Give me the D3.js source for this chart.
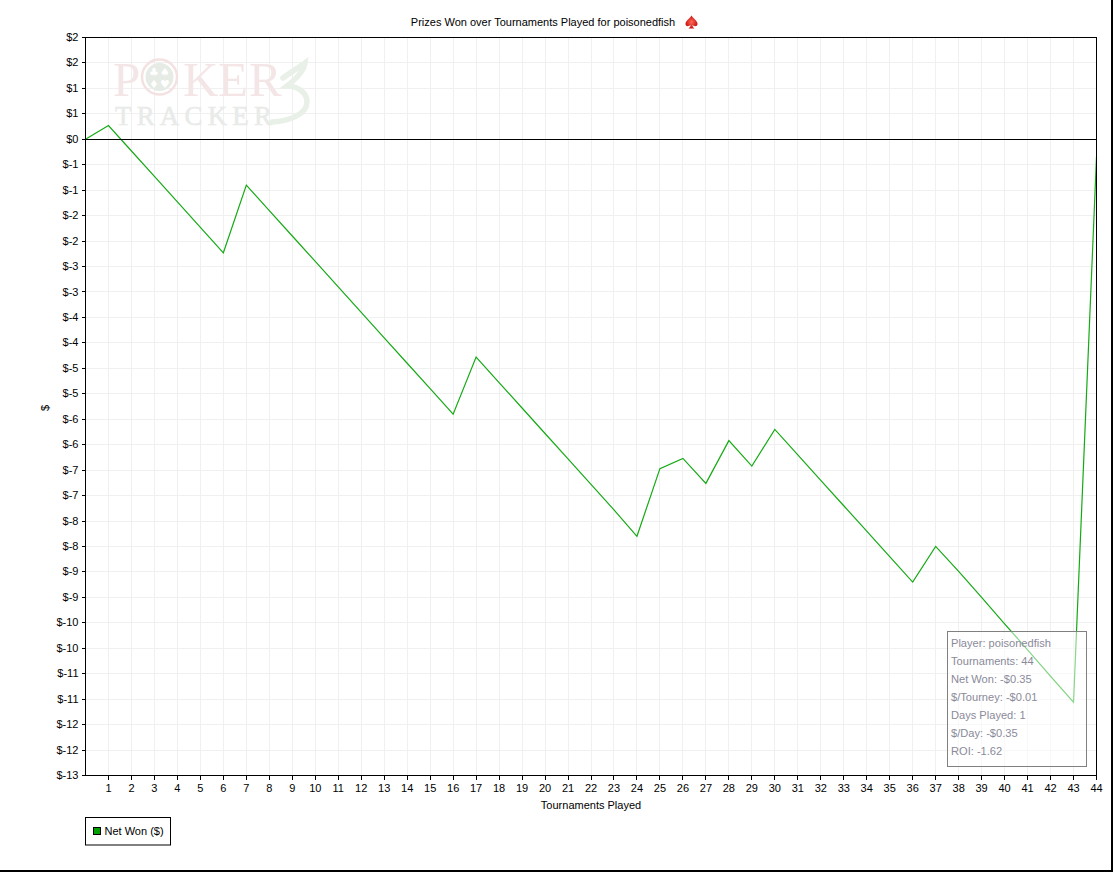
<!DOCTYPE html>
<html>
<head>
<meta charset="utf-8">
<title>Prizes Won over Tournaments Played</title>
<script src="https://cdn.jsdelivr.net/npm/d3@7"></script>
<style>
html,body{margin:0;padding:0;background:#fff;overflow:hidden}
svg{display:block}
text{font-family:"Liberation Sans",Arial,sans-serif;fill:#000}
</style>
</head>
<body>
<svg id="c" width="1113" height="872"></svg>
<script>
const chartTitle = "Prizes Won over Tournaments Played for poisonedfish";
const xTitle = "Tournaments Played";
const yTitle = "$";
const seriesName = "Net Won ($)";
const tournaments = [0,1,2,3,4,5,6,7,8,9,10,11,12,13,14,15,16,17,18,19,20,21,22,23,24,25,26,27,28,29,30,31,32,33,34,35,36,37,38,39,40,41,42,43,44];
const netWon = [0,0.27,-0.23,-0.73,-1.23,-1.73,-2.23,-0.9,-1.4,-1.9,-2.4,-2.9,-3.4,-3.9,-4.4,-4.9,-5.4,-4.28,-4.78,-5.28,-5.78,-6.28,-6.78,-7.28,-7.8,-6.47,-6.27,-6.76,-5.92,-6.42,-5.7,-6.2,-6.7,-7.2,-7.7,-8.2,-8.7,-8.0,-8.49,-9.0,-9.52,-10.03,-10.55,-11.06,-0.35];
const xTicks = [1,2,3,4,5,6,7,8,9,10,11,12,13,14,15,16,17,18,19,20,21,22,23,24,25,26,27,28,29,30,31,32,33,34,35,36,37,38,39,40,41,42,43,44];
const yTicks = [2,1.5,1,0.5,0,-0.5,-1,-1.5,-2,-2.5,-3,-3.5,-4,-4.5,-5,-5.5,-6,-6.5,-7,-7.5,-8,-8.5,-9,-9.5,-10,-10.5,-11,-11.5,-12,-12.5];
const yTickLabels = ["$2","$2","$1","$1","$0","$-1","$-1","$-2","$-2","$-3","$-3","$-4","$-4","$-5","$-5","$-6","$-6","$-7","$-7","$-8","$-8","$-9","$-9","$-10","$-10","$-11","$-11","$-12","$-12","$-13"];
const statLines = ["Player: poisonedfish","Tournaments: 44","Net Won: -$0.35","$/Tourney: -$0.01","Days Played: 1","$/Day: -$0.35","ROI: -1.62"];
const logoTop = ["P","K","E","R"];
const logoBottom = "TRACKER";

const L = 85.5, R = 1096.5, T = 37.5, B = 775.5;
const svg = d3.select("#c");
const x = d3.scaleLinear().domain([0,44]).range([L,R]);
const y = d3.scaleLinear().domain([2,-12.5]).range([T,B]);

const defs = svg.append("defs");
const grad = defs.append("radialGradient").attr("id","spadeFill");
grad.append("stop").attr("offset","0%").attr("stop-color","#ff6a55");
grad.append("stop").attr("offset","100%").attr("stop-color","#c81414");

// window edge
svg.append("rect").attr("x",1111).attr("y",0).attr("width",2).attr("height",872).attr("fill","#000");
svg.append("rect").attr("x",0).attr("y",870).attr("width",1113).attr("height",2).attr("fill","#000");

// grid
const grid = svg.append("g").attr("stroke","#f0f0f0").attr("stroke-width",1);
grid.selectAll(".gx").data(xTicks).join("line")
  .attr("x1",d=>Math.floor(x(d))+.5).attr("x2",d=>Math.floor(x(d))+.5).attr("y1",T).attr("y2",B);
grid.selectAll(".gy").data(yTicks).join("line")
  .attr("y1",d=>Math.floor(y(d))+.5).attr("y2",d=>Math.floor(y(d))+.5).attr("x1",L).attr("x2",R);

// watermark
const logo = svg.append("g");
const topX = [113,183,218,249];
logo.selectAll(".lt").data(logoTop).join("text")
  .attr("x",(d,i)=>topX[i]).attr("y",96)
  .style("font-family","'Liberation Serif',serif").style("font-size","49px")
  .style("fill","#f4e6e6").text(d=>d);
logo.append("text").attr("x",115).attr("y",125)
  .attr("textLength",157).attr("lengthAdjust","spacing")
  .style("font-family","'Liberation Serif',serif").style("font-size","27px")
  .style("fill","#e8ebe8").style("stroke","#e8ebe8").style("stroke-width",0.5).text(logoBottom);
logo.append("circle").attr("cx",159.5).attr("cy",77).attr("r",17.5).attr("fill","none").attr("stroke","#f4e2e2").attr("stroke-width",2.5);
logo.append("circle").attr("cx",159.5).attr("cy",77).attr("r",14).attr("fill","#e6ebe6");
logo.selectAll(".suit").data(["♣","♠","♦","♥"]).join("text")
  .attr("x",(d,i)=>154+(i%2)*11).attr("y",(d,i)=>76+Math.floor(i/2)*12)
  .attr("text-anchor","middle")
  .style("font-family","'DejaVu Sans',sans-serif").style("font-size","11px").style("fill","#fff").text(d=>d);
logo.append("path")
  .attr("d","M283,78 C291,72 298,68 305,63 C304,71 296,79 287,86 C297,86 307,92 307,102 C307,114 290,121 272,122")
  .attr("fill","none").attr("stroke","#e8f0e8").attr("stroke-width",5.5).attr("stroke-linecap","round");

// series
const line = d3.line().x((d,i)=>x(tournaments[i])).y(d=>y(d));
svg.append("path").datum(netWon).attr("d",line).attr("fill","none").attr("stroke","#14aa14").attr("stroke-width",1.2);

// zero line
svg.append("line").attr("x1",L).attr("x2",R).attr("y1",Math.floor(y(0))+.5).attr("y2",Math.floor(y(0))+.5).attr("stroke","#000");

// plot frame
svg.append("rect").attr("x",L).attr("y",T).attr("width",R-L).attr("height",B-T).attr("fill","none").attr("stroke","#000");

// axes
const ax = svg.append("g").attr("transform",`translate(0,${B})`)
  .call(d3.axisBottom(x).offset(0).tickValues(xTicks).tickSize(4).tickPadding(5).tickFormat(d3.format("d")));
const ay = svg.append("g").attr("transform",`translate(${L},0)`)
  .call(d3.axisLeft(y).offset(0).tickValues(yTicks).tickSize(4).tickPadding(3).tickFormat((d,i)=>yTickLabels[i]));
[ax,ay].forEach(g=>{
  g.select(".domain").remove();
  g.selectAll("text").style("font-family","'Liberation Sans',Arial,sans-serif").style("font-size","11px").style("fill","#000");
  g.selectAll("line").attr("stroke","#000").attr("shape-rendering","crispEdges");
});

// stats overlay
svg.append("rect").attr("x",947.5).attr("y",631.5).attr("width",139).attr("height",135)
  .attr("fill","#fff").attr("fill-opacity",0.5).attr("stroke","#808080").attr("stroke-width",1);
svg.append("g").selectAll("text").data(statLines).join("text")
  .attr("x",951).attr("y",(d,i)=>647+i*18)
  .style("font-size","11.1px").style("fill","#8a8a9a").text(d=>d);

// titles
svg.append("text").attr("x",543).attr("y",26).attr("text-anchor","middle").style("font-size","11px").text(chartTitle);
svg.append("path")
  .attr("d","M691.5,15.5 C693.5,19 697.5,20.5 697.5,24 C697.5,26.6 694,27 692.4,24.8 C692.5,26.4 693.2,27.6 694.5,28.5 L688.5,28.5 C689.8,27.6 690.5,26.4 690.6,24.8 C689,27 685.5,26.6 685.5,24 C685.5,20.5 689.5,19 691.5,15.5 Z")
  .attr("fill","url(#spadeFill)");
svg.append("text").attr("x",591).attr("y",809).attr("text-anchor","middle").style("font-size","11px").text(xTitle);
svg.append("text").attr("transform","translate(49,408) rotate(-90)").attr("text-anchor","middle").style("font-size","11px").text(yTitle);

// legend
svg.append("rect").attr("x",85.5).attr("y",817.5).attr("width",85).attr("height",27.5).attr("fill","#fff").attr("stroke","#000");
svg.append("rect").attr("x",93.5).attr("y",827.5).attr("width",7).attr("height",7).attr("fill","#00a000").attr("stroke","#000");
svg.append("text").attr("x",104.5).attr("y",835).style("font-size","11px").text(seriesName);
</script>
</body>
</html>
